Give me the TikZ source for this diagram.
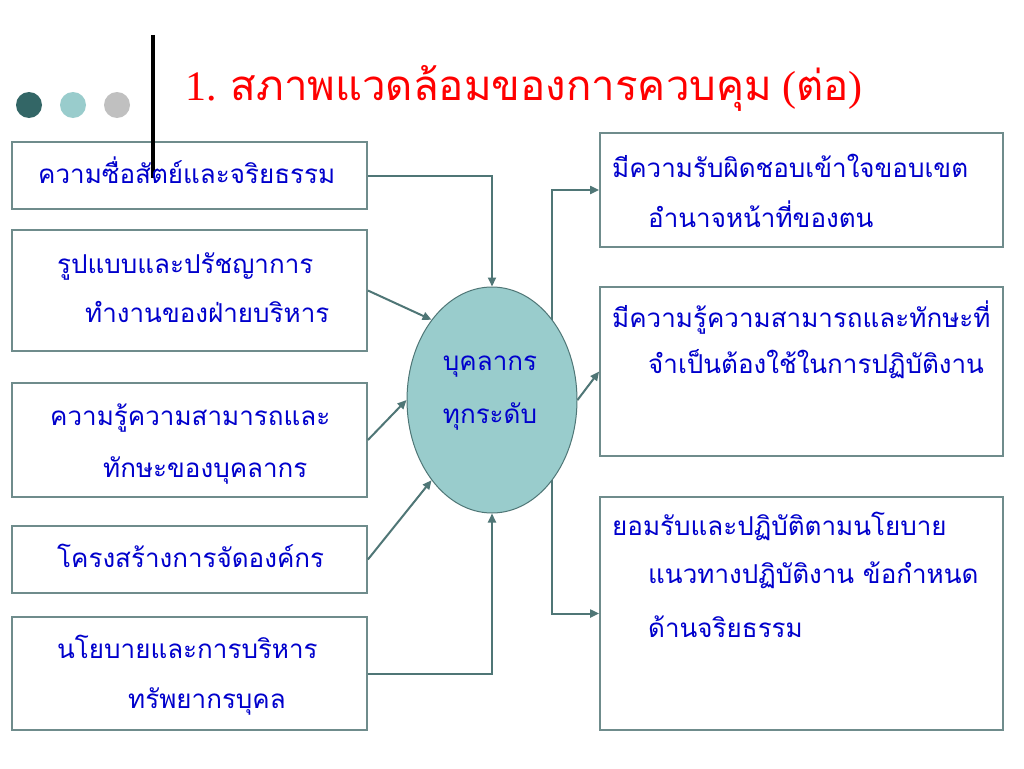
\documentclass[tikz,border=0pt]{standalone}
\usepackage{fontspec}
\setmainfont{Liberation Serif}
\newfontfamily\thai[Script=Thai]{Loma}
\usetikzlibrary{arrows.meta,shapes.geometric}
\definecolor{boxline}{HTML}{6F8C8C}
\definecolor{conn}{HTML}{4F7676}
\definecolor{txtblue}{HTML}{0000CC}
\definecolor{ellfill}{HTML}{99CCCC}
\definecolor{dotdark}{HTML}{336666}
\definecolor{dotgray}{HTML}{C0C0C0}
\tikzset{
  box/.style={draw=boxline,line width=1.8pt,rectangle,inner sep=0pt,fill=white},
  lbox/.style={box,minimum width=355pt},
  rbox/.style={box,minimum width=403pt},
  txt/.style={anchor=base west,inner sep=0pt,text=txtblue,font=\thai\fontsize{26}{30}\selectfont},
  ctxt/.style={anchor=base,inner sep=0pt,text=txtblue,font=\thai\fontsize{26}{30}\selectfont},
  conn/.style={draw=conn,line width=2pt,-{Triangle[length=9pt,width=8pt]}},
  dot/.style={circle,inner sep=0pt,minimum size=26pt}
}
\begin{document}
\begin{tikzpicture}[x=1pt,y=-1pt]
\useasboundingbox[fill=white] (0,0) rectangle (1024,768);
% decorations
\node[dot,fill=dotdark] (d1) at (29,105) {};
\node[dot,fill=ellfill] (d2) at (73,105) {};
\node[dot,fill=dotgray] (d3) at (117,105) {};
% title
\node[anchor=base west,inner sep=0pt,text=red,font=\fontsize{42}{46}\selectfont] (title) at (185,100) {1. {\thai สภาพแวดล้อมของการควบคุม} ({\thai ต่อ})};
% left boxes
\node[lbox,minimum height=67pt] (L1) at (189.5,175.5) {};
\node[lbox,minimum height=121pt] (L2) at (189.5,290.5) {};
\node[lbox,minimum height=114pt] (L3) at (189.5,440) {};
\node[lbox,minimum height=67pt] (L4) at (189.5,559.5) {};
\node[lbox,minimum height=113pt] (L5) at (189.5,673.5) {};
% right boxes
\node[rbox,minimum height=114pt] (R1) at (801.5,190) {};
\node[rbox,minimum height=169pt] (R2) at (801.5,371.5) {};
\node[rbox,minimum height=233pt] (R3) at (801.5,613.5) {};
% ellipse
\node[ellipse,draw=conn,line width=1pt,fill=ellfill,minimum width=170pt,minimum height=226pt,inner sep=0pt] (E) at (492,400) {};
% connectors
\draw[conn] (L1.east) -| (E.north);
\draw[conn] (L2.east) -- (E.127);
\draw[conn] (L3.east) -- (E.180);
\draw[conn] (L4.east) -- (E.233);
\draw[conn] (L5.east) -| (E.south);
\draw[conn] (E.53) |- (R1.west);
\draw[conn] (E.east) -- (R2.west);
\draw[conn] (E.-53) |- (R3.west);
% vertical black bar
\draw[line width=4pt,black] (153,35) coordinate (barA) -- (153,178) coordinate (barB);
% texts
\node[txt] (t1) at (38,183) {ความซื่อสัตย์และจริยธรรม};
\node[txt] (t2a) at (57,273) {รูปแบบและปรัชญาการ};
\node[txt] (t2b) at (85,322) {ทำงานของฝ่ายบริหาร};
\node[txt] (t3a) at (50,425) {ความรู้ความสามารถและ};
\node[txt] (t3b) at (103,477) {ทักษะของบุคลากร};
\node[txt] (t4) at (57,567) {โครงสร้างการจัดองค์กร};
\node[txt] (t5a) at (57,658) {นโยบายและการบริหาร};
\node[txt] (t5b) at (128,708) {ทรัพยากรบุคล};
\node[txt] (r1a) at (612,177) {มีความรับผิดชอบเข้าใจขอบเขต};
\node[txt] (r1b) at (648,227) {อำนาจหน้าที่ของตน};
\node[txt] (r2a) at (612,327) {มีความรู้ความสามารถและทักษะที่};
\node[txt] (r2b) at (648,373) {จำเป็นต้องใช้ในการปฏิบัติงาน};
\node[txt] (r3a) at (612,535) {ยอมรับและปฏิบัติตามนโยบาย};
\node[txt] (r3b) at (648,583) {แนวทางปฏิบัติงาน ข้อกำหนด};
\node[txt] (r3c) at (648,637) {ด้านจริยธรรม};
\node[ctxt] (e1) at (490,370) {บุคลากร};
\node[ctxt] (e2) at (490,423) {ทุกระดับ};
\end{tikzpicture}
\end{document}
